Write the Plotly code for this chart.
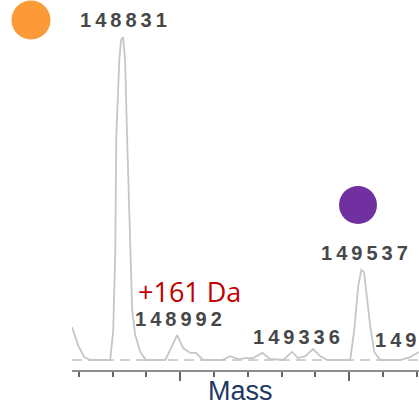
import plotly.graph_objects as go

# Spectrum (mass in Da, relative intensity %)
mass = [148680, 148698, 148716, 148734, 148793, 148802, 148808, 148811, 148820,
        148825, 148831, 148837, 148843, 148852, 148858, 148867, 148882, 148899,
        148956, 148973, 148991, 149009, 149030, 149047, 149068, 149124, 149148,
        149172, 149195, 149216, 149243, 149266, 149305, 149331, 149349, 149370,
        149393, 149414, 149435, 149503, 149515, 149527, 149536, 149544, 149553,
        149562, 149574, 149592, 149651, 149680, 149707]
intensity = [10.2, 4.6, 0.9, 0, 0, 9.3, 34, 69, 93,
             99, 100, 93, 69, 34, 15.5, 7.7, 2.5, 0,
             0, 3.7, 7.7, 3.7, 2.2, 2.2, 0, 0, 1.2,
             0.3, 0.6, 0.6, 2.2, 0.3, 0, 2.5, 0.6, 1.2,
             3.4, 1.2, 0, 0, 9.3, 23, 27.9, 27.2, 18.6,
             10.8, 2.5, 0, 0, 0.9, 2.5]

peak_labels = ["148831", "148992", "149336", "149537", "149698"]
label_x = [148831, 148994, 149343, 149544, 149571]
label_y = [105.3, 12.7, 7.1, 33.1, 6.2]
label_anchor = ["center", "center", "center", "center", "left"]

shift_text = "+161 Da"
axis_title = "Mass"

XR = [148680, 149706.6]
YR = [-3.1, 111.5]

fig = go.Figure()
fig.add_trace(go.Scatter(x=mass, y=intensity, mode="lines",
                         line=dict(color="#c6c6c6", width=1.8),
                         hoverinfo="skip", showlegend=False))

# dashed baseline
fig.add_shape(type="line", xref="x", yref="y", x0=XR[0], x1=XR[1], y0=0, y1=0,
              line=dict(color="#c4c4c4", width=1.5, dash="10px,6px"), layer="below")

spaced = lambda s: "\u2009".join(s)
for t, x, y, a in zip(peak_labels, label_x, label_y, label_anchor):
    fig.add_annotation(x=x, y=y, xref="x", yref="y", text="<b>" + spaced(t) + "</b>",
                       showarrow=False, xanchor=a, yanchor="middle",
                       font=dict(family="Liberation Sans, Arial", size=20, color="#474747"))

fig.add_annotation(x=148868, y=21.2, xref="x", yref="y", text=shift_text,
                   showarrow=False, xanchor="left", yanchor="middle",
                   font=dict(family="Open Sans, Liberation Sans", size=27, color="#c00000"))

fig.add_annotation(x=(240 - 72) / 347, y=(370 - 391) / 370, xref="paper", yref="paper",
                   text=axis_title, showarrow=False, xanchor="center", yanchor="middle",
                   font=dict(family="Liberation Sans, Arial", size=27, color="#1f3864"))

# marker circles
fig.add_shape(type="circle", xref="paper", yref="paper", xsizemode="pixel", ysizemode="pixel",
              xanchor=(31 - 72) / 347, yanchor=(370 - 20) / 370, x0=-19.5, x1=19.5, y0=-19.5, y1=19.5,
              fillcolor="#fd9a38", line=dict(width=0))
fig.add_shape(type="circle", xref="paper", yref="paper", xsizemode="pixel", ysizemode="pixel",
              xanchor=(358 - 72) / 347, yanchor=(370 - 205) / 370, x0=-19, x1=19, y0=-19, y1=19,
              fillcolor="#7030a0", line=dict(width=0))

fig.update_layout(
    width=419, height=409,
    margin=dict(l=72, r=0, t=0, b=39),
    paper_bgcolor="white", plot_bgcolor="white",
    xaxis=dict(range=XR, showgrid=False, zeroline=False, showline=True,
               linecolor="#8c8c8c", linewidth=2, ticks="outside", tick0=149000, dtick=500,
               ticklen=9, tickwidth=2, tickcolor="#666666", showticklabels=False,
               minor=dict(dtick=100, tick0=149000, ticks="outside", ticklen=5,
                          tickwidth=2, tickcolor="#666666")),
    yaxis=dict(range=YR, visible=False, showgrid=False, zeroline=False),
)

fig.write_html("out.html")
